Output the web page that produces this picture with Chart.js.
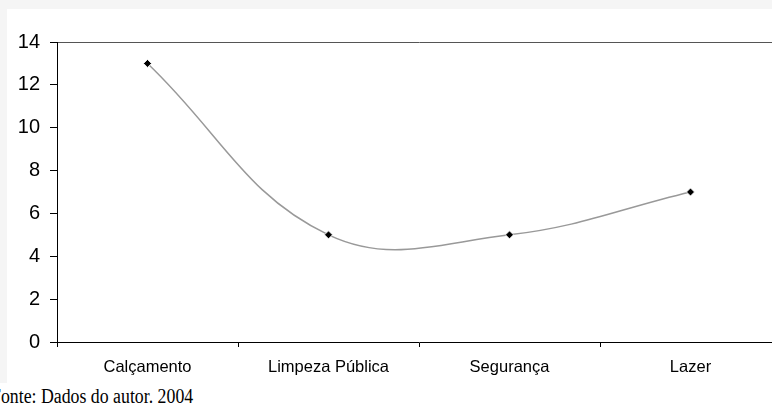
<!DOCTYPE html>
<html>
<head>
<meta charset="utf-8">
<script src="https://cdn.jsdelivr.net/npm/chart.js@4"></script>
<style>
  html, body { margin: 0; padding: 0; }
  body { width: 772px; height: 406px; overflow: hidden; background: #fff; position: relative; }
  #topband { position: absolute; left: 0; top: 0; width: 772px; height: 9px; background: #f5f5f5; }
  #leftband { position: absolute; left: 0; top: 0; width: 7px; height: 383px; background: #f5f5f5; }
  #box { position: absolute; left: 7px; top: 9px; width: 790px; height: 374px; }
  #note {
    position: absolute; left: -9px; top: 385px; white-space: nowrap;
    font-family: "Liberation Serif", "Times New Roman", serif; font-size: 20px; color: #000;
    transform: scaleX(0.89); transform-origin: 0 0;
  }
</style>
</head>
<body>
<div id="topband"></div>
<div id="leftband"></div>
<div id="box"><canvas id="c" width="790" height="374"></canvas></div>
<div id="note">Fonte: Dados do autor. 2004</div>
<script>
// categorias e valores
var categorias = ['Calçamento', 'Limpeza Pública', 'Segurança', 'Lazer'];
var valores = [13, 5, 5, 7];
var yTicks = [0, 2, 4, 6, 8, 10, 12, 14];

var ctx = document.getElementById('c').getContext('2d');

var chart = new Chart(ctx, {
  type: 'line',
  data: {
    labels: categorias,
    datasets: [{
      data: valores,
      borderColor: '#999999',
      borderWidth: 1.5,
      tension: 0.4,
      pointStyle: 'rectRot',
      pointRadius: 4,
      pointBackgroundColor: '#000',
      pointBorderColor: 'rgba(255,255,255,0.85)',
      pointBorderWidth: 1
    }]
  },
  options: {
    responsive: false,
    animation: false,
    layout: { padding: { top: 33, right: 16, left: 0, bottom: 0 } },
    plugins: { legend: { display: false }, tooltip: { enabled: false } },
    scales: {
      x: {
        offset: true,
        border: { color: '#000', width: 1 },
        grid: { offset: true, drawOnChartArea: false, tickColor: '#000', tickLength: 5 },
        ticks: { color: '#000', font: { family: 'Liberation Sans, Arial', size: 16.5 }, padding: 11, maxRotation: 0 },
        afterFit: function (s) { s.height = 41; }
      },
      y: {
        min: 0,
        max: 14,
        afterBuildTicks: function (s) { s.ticks = yTicks.map(function (v) { return { value: v }; }); },
        border: { color: '#000', width: 1 },
        grid: {
          color: function (c) { return c.tick && c.tick.value === 14 ? '#555' : 'rgba(0,0,0,0)'; },
          tickColor: '#000',
          tickLength: 7
        },
        ticks: { color: '#000', font: { family: 'Liberation Sans, Arial', size: 20 }, padding: 10 },
        afterFit: function (s) { s.width = 50; }
      }
    }
  }
});
</script>
</body>
</html>
